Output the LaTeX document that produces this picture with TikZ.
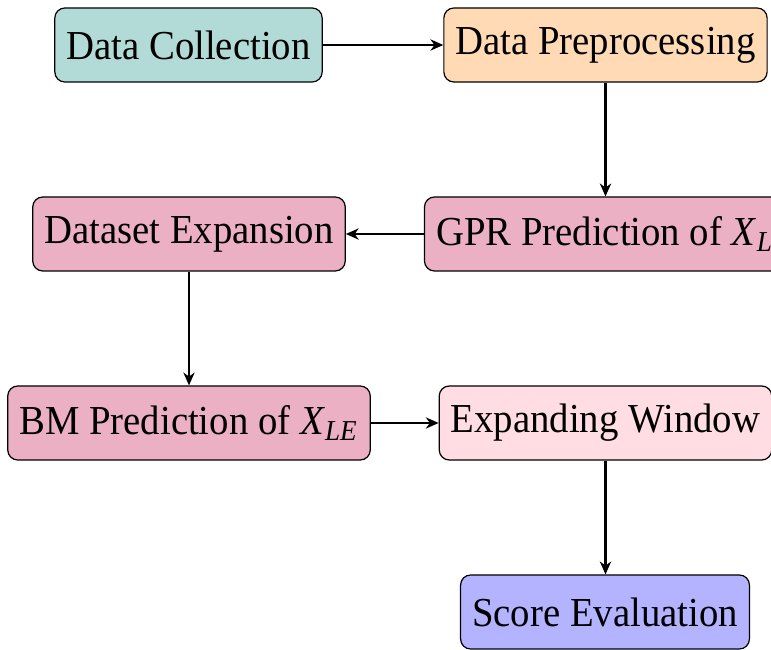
\documentclass[tikz,border=0pt]{standalone}
\usepackage{fontspec}
\setmainfont{Liberation Serif}[FakeStretch=0.94]
\usetikzlibrary{arrows.meta}
\definecolor{collectcol}{RGB}{178,219,216}
\definecolor{prepcol}{RGB}{255,218,180}
\definecolor{predcol}{RGB}{235,176,196}
\definecolor{windowcol}{RGB}{255,221,226}
\definecolor{scorecol}{RGB}{179,179,255}
\tikzset{
  stage box/.style={draw, rounded corners=2.5pt, line width=0.3pt,
    minimum height=18.5pt, inner xsep=2.9pt,
    font=\fontsize{10.3}{12}\selectfont},
  flow/.style={-{Stealth[length=3.2pt, width=2.8pt, inset=1pt]}, line width=0.7pt},
}

\begin{document}
\begin{tikzpicture}[x=0.25pt, y=-0.25pt]
  \useasboundingbox (0,0) rectangle (771,650);
  \node[stage box, fill=collectcol] (collect) at (188.5,45)  {Data Collection};
  \node[stage box, fill=prepcol]    (prep)    at (605.5,45)  {Data Preprocessing};
  \node[stage box, fill=predcol]    (gpr)     at (605,234)   {GPR Prediction of \textit{X}\textsubscript{\textit{L}}};
  \node[stage box, fill=predcol]    (expand)  at (189,234)   {Dataset Expansion};
  \node[stage box, fill=predcol]    (bm)      at (189,423)   {BM Prediction of \textit{X}\textsubscript{\textit{LE}}};
  \node[stage box, fill=windowcol]  (window)  at (605.5,423) {Expanding Window};
  \node[stage box, fill=scorecol]   (score)   at (605,612)   {Score Evaluation};
  \draw[flow] (collect) -- (prep);
  \draw[flow] (prep.south) -- (prep.south |- gpr.north);
  \draw[flow] (gpr) -- (expand);
  \draw[flow] (expand) -- (bm);
  \draw[flow] (bm) -- (window);
  \draw[flow] (window.south) -- (window.south |- score.north);
\end{tikzpicture}
\end{document}
